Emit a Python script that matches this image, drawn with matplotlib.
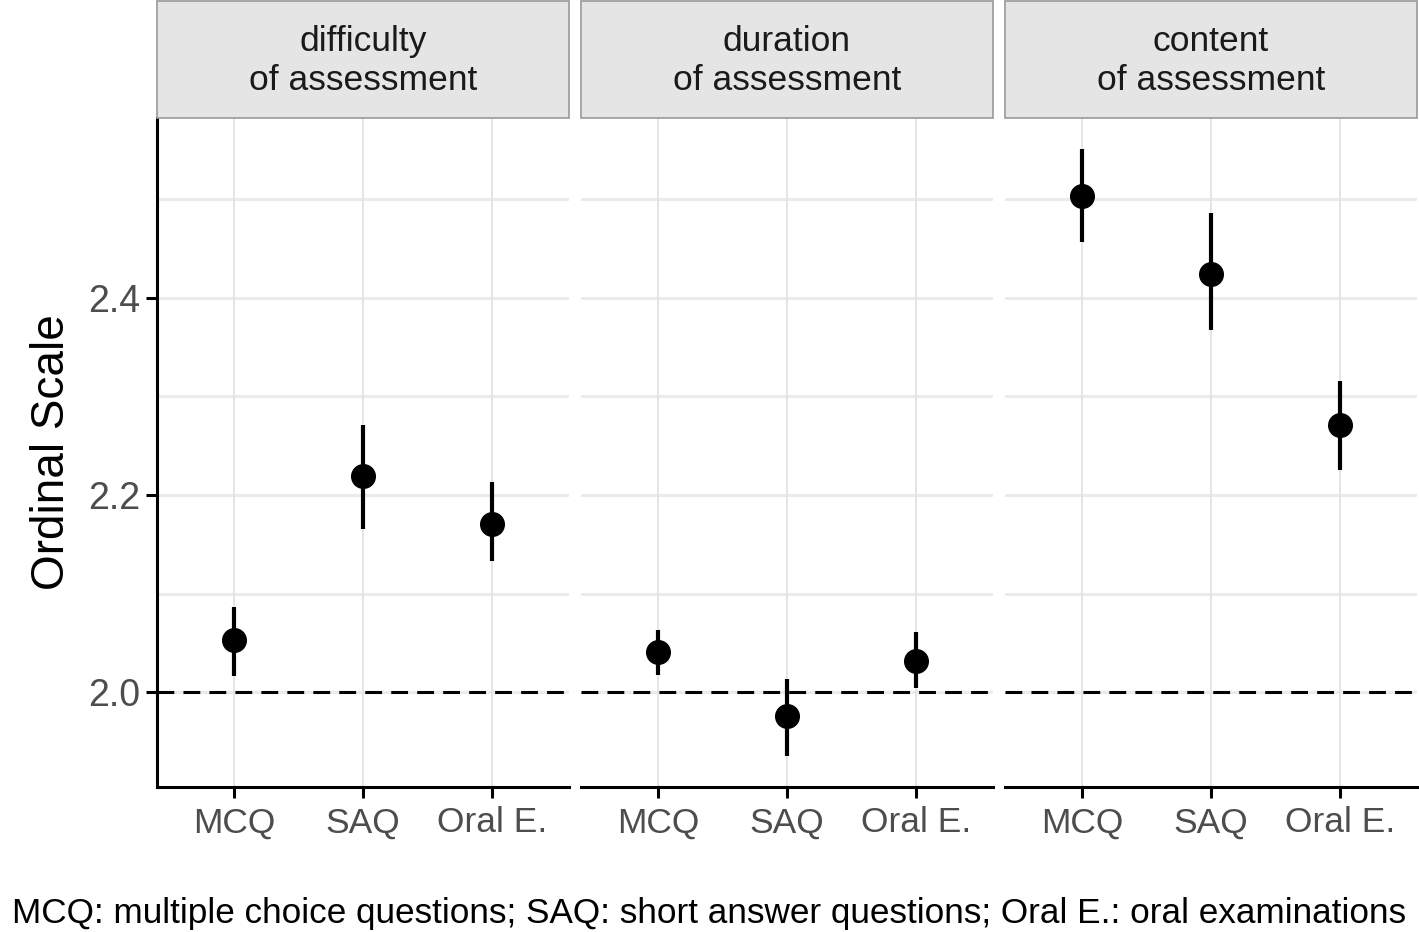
import numpy as np
import matplotlib.pyplot as plt
from matplotlib.patches import Rectangle

plt.rcParams['font.family'] = ['Liberation Sans', 'DejaVu Sans']

# data
facets = ['difficulty\nof assessment', 'duration\nof assessment', 'content\nof assessment']
categories = ['MCQ', 'SAQ', 'Oral E.']
means = [
    [2.053, 2.219, 2.171],
    [2.041, 1.976, 2.032],
    [2.504, 2.424, 2.271],
]
lower = [
    [2.016, 2.166, 2.133],
    [2.017, 1.935, 2.004],
    [2.457, 2.368, 2.225],
]
upper = [
    [2.086, 2.271, 2.213],
    [2.063, 2.013, 2.061],
    [2.551, 2.486, 2.316],
]
y_ticks = [2.0, 2.2, 2.4]
caption = 'MCQ: multiple choice questions; SAQ: short answer questions; Oral E.: oral examinations'

W, H = 1419, 932
fig = plt.figure(figsize=(W / 100, H / 100), dpi=100)

panel_left = [157, 581, 1005]
panel_w = 412
panel_top, panel_bot = 118, 787
strip_top = 1

tick_col = '#4d4d4d'
x = np.arange(1, len(categories) + 1)

for i in range(3):
    ax = fig.add_axes([panel_left[i] / W, (H - panel_bot) / H,
                       panel_w / W, (panel_bot - panel_top) / H])
    ax.set_xlim(0.4, 3.6)
    ax.set_ylim(1.9036, 2.5827)

    # grid
    for yg in np.arange(2.0, 2.6, 0.1):
        ax.axhline(yg, color='#ebebeb', lw=2.2, zorder=0)
    for xv in x:
        ax.axvline(xv, color='#e3e3e3', lw=1.3, zorder=0)

    ax.axhline(2.0, color='black', lw=2.2, ls=(0, (5.5, 3)), zorder=1)

    m = np.array(means[i])
    lo = np.array(lower[i])
    hi = np.array(upper[i])
    ax.vlines(x, lo, hi, color='black', lw=3.0, zorder=2)
    ax.plot(x, m, 'o', color='black', ms=17, zorder=3)

    for s in ['top', 'right']:
        ax.spines[s].set_visible(False)
    ax.spines['bottom'].set_linewidth(2.2)
    ax.spines['left'].set_linewidth(2.2)
    ax.set_xticks(x)
    ax.set_xticklabels(categories, fontsize=25.5, color=tick_col)
    ax.tick_params(axis='x', length=8, width=2.2, pad=6)
    if i == 0:
        ax.set_yticks(y_ticks)
        ax.set_yticklabels([f'{v:.1f}' for v in y_ticks], fontsize=27, color=tick_col)
        ax.tick_params(axis='y', length=8, width=2.2, pad=4)
        ax.set_ylabel('Ordinal Scale', fontsize=33, labelpad=10)
    else:
        ax.spines['left'].set_visible(False)
        ax.set_yticks([])

    # strip
    sx = panel_left[i] / W
    sy = (H - panel_top) / H
    fig.add_artist(Rectangle((sx, sy), panel_w / W, (panel_top - strip_top) / H,
                             transform=fig.transFigure, facecolor='#e5e5e5',
                             edgecolor='#999999', lw=1.2))
    fig.text(sx + panel_w / W / 2, (H - 61) / H, facets[i],
             ha='center', va='center', fontsize=25.5, color='#1a1a1a', linespacing=1.2)

fig.text(0.5, (H - 913) / H, caption, ha='center', va='center', fontsize=25.3)

fig.savefig('out.png', dpi=100)
